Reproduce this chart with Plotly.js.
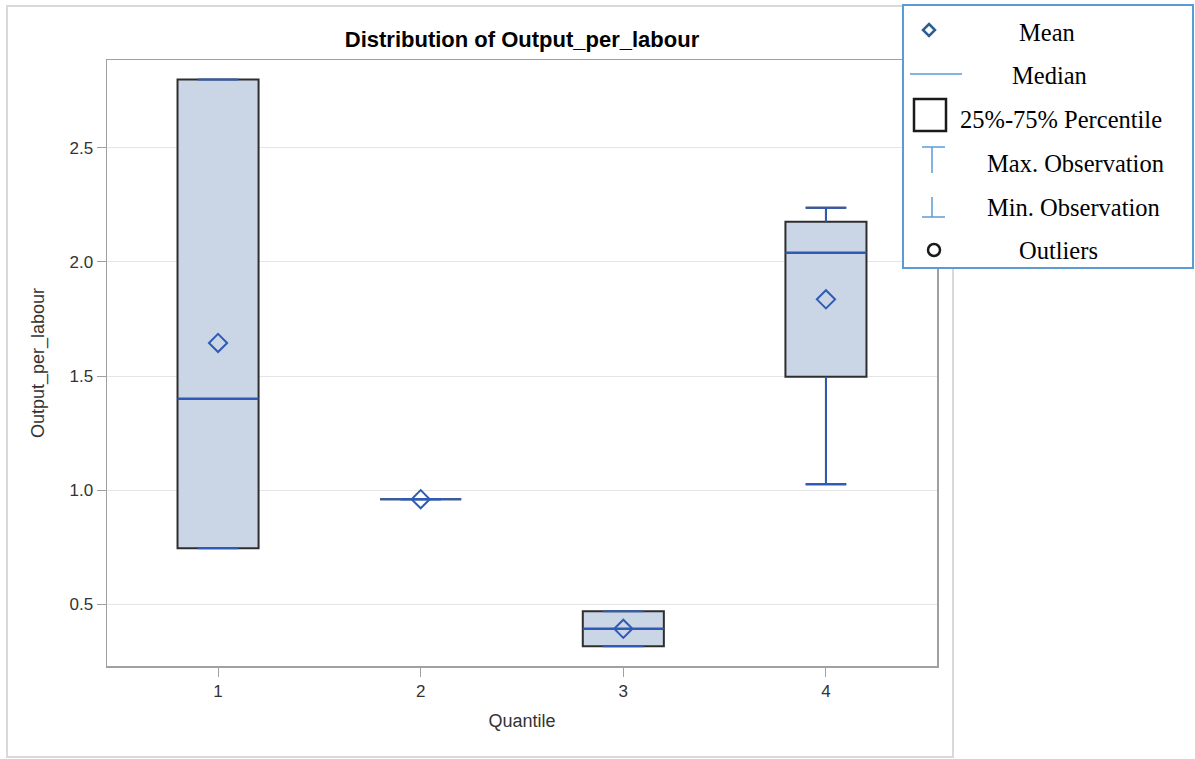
<!DOCTYPE html>
<html>
<head>
<meta charset="utf-8">
<script src="https://cdn.plot.ly/plotly-3.0.1.min.js"></script>
<style>
  html, body { margin: 0; padding: 0; background: #ffffff; }
  #chart { width: 1195px; height: 759px; }
</style>
</head>
<body>
<div id="chart"></div>
<script>
// Summary statistics of Output_per_labour for each quantile group
const quantiles = [1, 2, 3, 4];
const minObs  = [0.745, 0.96, 0.316, 1.026];
const q1      = [0.745, 0.96, 0.316, 1.497];
const medians = [1.40,  0.96, 0.392, 2.04];
const q3      = [2.80,  0.96, 0.469, 2.176];
const maxObs  = [2.80,  0.96, 0.469, 2.237];
const means   = [1.645, 0.96, 0.392, 1.836];

const tickVals = [0.5, 1.0, 1.5, 2.0, 2.5];
const tickText = ['0.5', '1.0', '1.5', '2.0', '2.5'];
const legendLabels = ['Mean', 'Median', '25%-75% Percentile', 'Max. Observation', 'Min. Observation', 'Outliers'];

const W = 1195, H = 759;
const M = { l: 107, r: 258, t: 60, b: 93 };
const plotW = W - M.l - M.r, plotH = H - M.t - M.b;
// pixel -> paper coordinate helpers for the decoration layer
const px = v => (v - M.l) / plotW;
const py = v => (H - M.b - v) / plotH;

const boxWidth = 0.4;
const capHalf = boxWidth / 4;
const blue = '#2f5bb7';
const dark = '#2e2e2e';

// boxes with fill and dark outline
const boxTrace = {
  type: 'box',
  x: quantiles,
  q1: q1,
  median: medians,
  q3: q3,
  lowerfence: minObs,
  upperfence: maxObs,
  width: boxWidth,
  whiskerwidth: 0.5,
  fillcolor: '#cad5e5',
  line: { color: dark, width: 2 },
  boxpoints: false,
  hoverinfo: 'skip',
  showlegend: false
};

// median lines and whiskers drawn over the boxes in blue
const medX = [], medY = [], whX = [], whY = [];
quantiles.forEach((c, i) => {
  medX.push(c - boxWidth / 2, c + boxWidth / 2, null);
  medY.push(medians[i], medians[i], null);
  whX.push(c, c, null, c - capHalf, c + capHalf, null);
  whY.push(q3[i], maxObs[i], null, maxObs[i], maxObs[i], null);
  whX.push(c, c, null, c - capHalf, c + capHalf, null);
  whY.push(q1[i], minObs[i], null, minObs[i], minObs[i], null);
});

const whiskerTrace = {
  type: 'scatter', mode: 'lines', x: whX, y: whY,
  line: { color: blue, width: 2 }, hoverinfo: 'skip', showlegend: false
};
const medianTrace = {
  type: 'scatter', mode: 'lines', x: medX, y: medY,
  line: { color: blue, width: 2 }, hoverinfo: 'skip', showlegend: false
};
const meanTrace = {
  type: 'scatter', mode: 'markers', x: quantiles, y: means,
  marker: { symbol: 'diamond-open', size: 14, color: blue, line: { color: blue, width: 2 } },
  hoverinfo: 'skip', showlegend: false
};

// hand-drawn key in the top-right corner
const keyFont = { family: 'Liberation Serif, Times New Roman, serif', size: 24.5, color: '#000000' };
const keyTextPos = [
  [1018, 32], [1011, 75], [959, 119], [986, 163], [986, 207], [1018, 250]
];
const annotations = legendLabels.map((t, i) => ({
  text: t, xref: 'paper', yref: 'paper',
  x: px(keyTextPos[i][0]), y: py(keyTextPos[i][1]),
  xanchor: 'left', yanchor: 'middle', showarrow: false, font: keyFont, borderpad: 0
}));

const keyBlue = '#5b9bd5';
const shapes = [
  // outer frame
  { type: 'rect', xref: 'paper', yref: 'paper', x0: px(7), x1: px(953), y0: py(757), y1: py(6),
    line: { color: '#d9d9d9', width: 2 }, fillcolor: 'rgba(0,0,0,0)', layer: 'below' },
  // key frame
  { type: 'rect', xref: 'paper', yref: 'paper', x0: px(903), x1: px(1193), y0: py(268), y1: py(5),
    line: { color: keyBlue, width: 2 }, fillcolor: '#ffffff' },
  // median glyph
  { type: 'line', xref: 'paper', yref: 'paper', x0: px(910), x1: px(962), y0: py(74), y1: py(74),
    line: { color: keyBlue, width: 1.5 } },
  // percentile glyph
  { type: 'rect', xref: 'paper', yref: 'paper', x0: px(914), x1: px(946), y0: py(131), y1: py(99),
    line: { color: '#1a1a1a', width: 2.5 }, fillcolor: '#ffffff' },
  // max observation glyph
  { type: 'line', xref: 'paper', yref: 'paper', x0: px(922), x1: px(945), y0: py(147), y1: py(147),
    line: { color: keyBlue, width: 1.5 } },
  { type: 'line', xref: 'paper', yref: 'paper', x0: px(932), x1: px(932), y0: py(147), y1: py(173),
    line: { color: keyBlue, width: 1.5 } },
  // min observation glyph
  { type: 'line', xref: 'paper', yref: 'paper', x0: px(932), x1: px(932), y0: py(197), y1: py(217),
    line: { color: keyBlue, width: 1.5 } },
  { type: 'line', xref: 'paper', yref: 'paper', x0: px(922), x1: px(945), y0: py(217), y1: py(217),
    line: { color: keyBlue, width: 1.5 } },
  // outlier glyph
  { type: 'circle', xref: 'paper', yref: 'paper', x0: px(928), x1: px(940), y0: py(256), y1: py(244),
    line: { color: '#1a1a1a', width: 2.5 }, fillcolor: 'rgba(0,0,0,0)' },
  // mean glyph
  { type: 'path', xref: 'paper', yref: 'paper',
    path: `M ${px(929)} ${py(24)} L ${px(935)} ${py(30)} L ${px(929)} ${py(36)} L ${px(923)} ${py(30)} Z`,
    line: { color: '#2b5f94', width: 2.5 }, fillcolor: 'rgba(0,0,0,0)' }
];

const tickFont = { family: 'Liberation Sans, Arial, sans-serif', size: 17, color: '#333333' };
const axisFont = { family: 'Liberation Sans, Arial, sans-serif', size: 18, color: '#333333' };

const layout = {
  width: W, height: H,
  margin: M,
  paper_bgcolor: '#ffffff',
  plot_bgcolor: '#ffffff',
  showlegend: false,
  title: {
    text: '<b>Distribution of Output_per_labour</b>',
    font: { family: 'Liberation Sans, Arial, sans-serif', size: 22, color: '#000000' },
    x: 0.5, xref: 'paper', xanchor: 'center',
    y: 1 - 39 / H, yref: 'container', yanchor: 'middle'
  },
  xaxis: {
    range: [0.452, 4.548],
    tickvals: quantiles,
    ticktext: quantiles.map(String),
    ticks: 'outside', ticklen: 9, tickcolor: '#a0a0a0', tickwidth: 1,
    showgrid: false, zeroline: false,
    showline: true, mirror: true, linecolor: '#a0a0a0', linewidth: 1.5,
    tickfont: tickFont,
    title: { text: 'Quantile', font: axisFont, standoff: 14 }
  },
  yaxis: {
    range: [0.229, 2.885],
    tickvals: tickVals,
    ticktext: tickText,
    ticks: 'outside', ticklen: 9, tickcolor: '#a0a0a0', tickwidth: 1,
    showgrid: true, gridcolor: '#e5e5e5', gridwidth: 1,
    zeroline: false,
    showline: true, mirror: true, linecolor: '#a0a0a0', linewidth: 1.5,
    tickfont: tickFont,
    title: { text: 'Output_per_labour', font: axisFont, standoff: 20 }
  },
  shapes: shapes,
  annotations: annotations
};

Plotly.newPlot('chart', [boxTrace, whiskerTrace, medianTrace, meanTrace], layout,
  { displayModeBar: false, staticPlot: true });
</script>
</body>
</html>
